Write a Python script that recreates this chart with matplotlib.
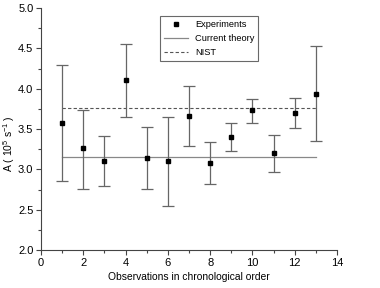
import matplotlib
matplotlib.use("Agg")
import matplotlib.pyplot as plt
from matplotlib.ticker import MultipleLocator

plt.rcParams['font.family'] = ['Liberation Sans', 'DejaVu Sans']
plt.rcParams['mathtext.fontset'] = 'custom'
plt.rcParams['mathtext.rm'] = 'Liberation Sans'

obs = [1, 2, 3, 4, 5, 6, 7, 8, 9, 10, 11, 12, 13]
A_val = [3.58, 3.26, 3.10, 4.11, 3.14, 3.10, 3.66, 3.08, 3.40, 3.73, 3.20, 3.70, 3.94]
A_low = [2.86, 2.76, 2.79, 3.65, 2.76, 2.54, 3.29, 2.82, 3.23, 3.57, 2.97, 3.51, 3.35]
A_high = [4.30, 3.73, 3.41, 4.56, 3.52, 3.65, 4.03, 3.34, 3.57, 3.87, 3.42, 3.88, 4.53]
theory = 3.157
nist = 3.765
line_x = [1, 13]

fig = plt.figure(figsize=(3.8, 2.88), dpi=100)
ax = fig.add_axes([0.108, 0.132, 0.779, 0.840])

yerr = [[v - lo for v, lo in zip(A_val, A_low)], [hi - v for v, hi in zip(A_val, A_high)]]
ax.errorbar(obs, A_val, yerr=yerr, fmt='none', ecolor='#666666', elinewidth=0.9,
            capsize=4, capthick=0.9, zorder=2)
ax.plot(obs, A_val, 's', color='black', markersize=3.4, label='Experiments', zorder=3)
ax.plot(line_x, [theory, theory], '-', color='#888888', linewidth=0.9, label='Current theory', zorder=1)
ax.plot(line_x, [nist, nist], '--', color='#555555', linewidth=0.8, dashes=(3, 2), label='NIST', zorder=1)

ax.set_xlim(0, 14)
ax.set_ylim(2.0, 5.0)
ax.xaxis.set_major_locator(MultipleLocator(2))
ax.xaxis.set_minor_locator(MultipleLocator(1))
ax.yaxis.set_major_locator(MultipleLocator(0.5))
ax.yaxis.set_minor_locator(MultipleLocator(0.25))
ax.spines['top'].set_visible(False)
ax.spines['right'].set_visible(False)
for s in ['left', 'bottom']:
    ax.spines[s].set_color('#444444')
    ax.spines[s].set_linewidth(0.8)
ax.tick_params(which='major', direction='out', length=3.5, width=0.8, labelsize=8, colors='#444444',
               labelcolor='black', pad=2)
ax.tick_params(which='minor', direction='out', length=2.2, width=0.8, colors='#444444')

ax.set_xlabel('Observations in chronological order', fontsize=7.4, labelpad=3)
ax.set_ylabel(r'A ( 10$^5$ s$^{-1}$ )', fontsize=7.5)
ax.yaxis.set_label_coords(-0.08, 0.44)

leg = ax.legend(loc='upper left', bbox_to_anchor=(0.402, 0.967), fontsize=6.7, frameon=True,
                fancybox=False, edgecolor='#444444', handlelength=2.6, handletextpad=0.8,
                borderpad=0.4, borderaxespad=0, labelspacing=0.55, markerscale=0.9)
leg.get_frame().set_linewidth(0.8)

fig.savefig('out.png', dpi=100)
